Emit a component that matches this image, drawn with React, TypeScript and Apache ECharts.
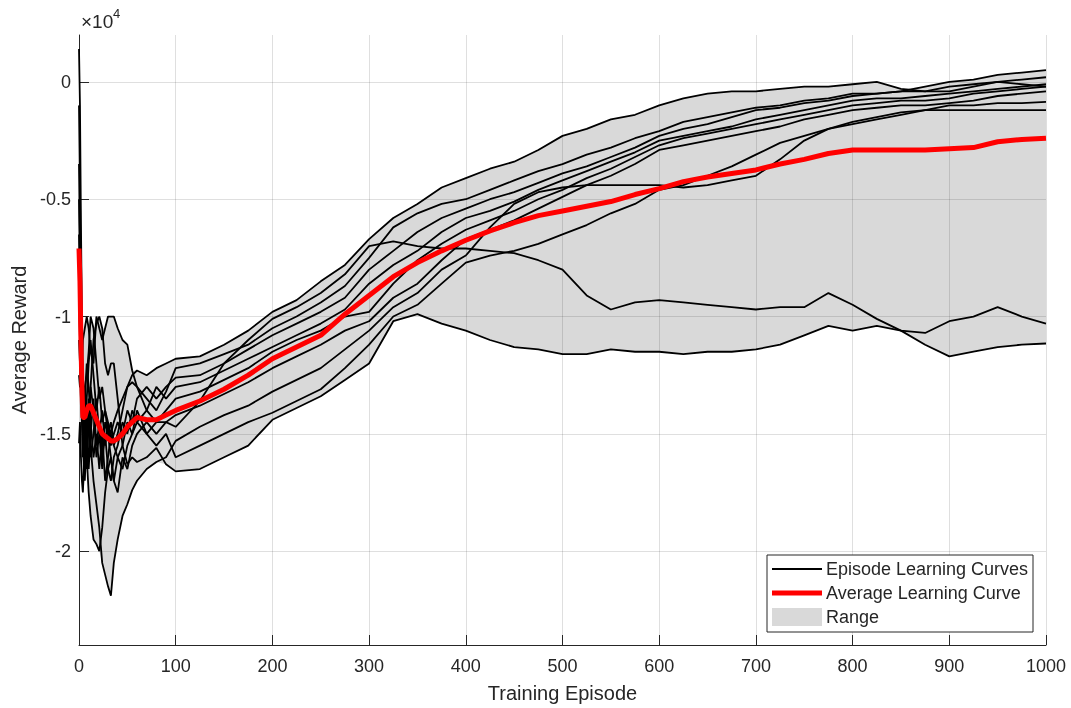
import React, { useEffect, useRef } from "react";
import * as echarts from "echarts";

// Training episodes (sample grid shared by all curves)
const episodes = [0, 1, 2, 3, 4, 6, 8, 10, 12, 15, 18, 21, 24, 27, 30, 33, 36, 40, 45, 50, 55, 60, 70, 80, 90, 100,
  125, 150, 175, 200, 225, 250, 275, 300, 325, 350, 375, 400, 425, 450, 475, 500, 525, 550, 575, 600,
  625, 650, 675, 700, 725, 750, 775, 800, 825, 850, 875, 900, 925, 950, 975, 1000];

// Episode learning curves (average reward, in units of 1e4)
const curve1 = [0.14, -0.1, -0.6, -1.0, -1.3, -1.5, -1.35, -1.2, -1.1, -1.25, -1.4, -1.3, -1.45, -1.4, -1.5, -1.45, -1.55, -1.5, -1.4, -1.3, -1.25, -1.23, -1.25, -1.22, -1.2, -1.18,
  -1.17, -1.12, -1.06, -0.98, -0.93, -0.85, -0.78, -0.67, -0.58, -0.52, -0.45, -0.41, -0.37, -0.34, -0.29, -0.23, -0.2, -0.16, -0.14, -0.1,
  -0.07, -0.05, -0.04, -0.04, -0.03, -0.02, -0.02, -0.01, 0.0, -0.03, -0.04, -0.02, -0.01, 0.0, -0.01, -0.02];
const curve2 = [-0.1, -0.45, -0.9, -1.2, -1.45, -1.3, -1.55, -1.4, -1.6, -1.5, -1.35, -1.5, -1.4, -1.55, -1.45, -1.55, -1.5, -1.45, -1.5, -1.4, -1.45, -1.35, -1.3, -1.35, -1.3, -1.26,
  -1.25, -1.2, -1.14, -1.08, -1.03, -0.98, -0.92, -0.8, -0.72, -0.64, -0.58, -0.54, -0.5, -0.47, -0.43, -0.39, -0.36, -0.32, -0.28, -0.23,
  -0.2, -0.18, -0.15, -0.12, -0.11, -0.09, -0.08, -0.06, -0.05, -0.04, -0.02, 0.0, 0.01, 0.03, 0.04, 0.05];
const curve3 = [-0.35, -0.7, -1.0, -1.15, -1.25, -1.6, -1.4, -1.65, -1.5, -1.35, -1.55, -1.45, -1.6, -1.5, -1.65, -1.7, -1.6, -1.55, -1.45, -1.5, -1.4, -1.45, -1.4, -1.3, -1.35, -1.3,
  -1.28, -1.23, -1.18, -1.13, -1.08, -1.03, -0.97, -0.86, -0.78, -0.72, -0.64, -0.58, -0.55, -0.51, -0.46, -0.42, -0.38, -0.34, -0.3, -0.25,
  -0.23, -0.21, -0.19, -0.16, -0.14, -0.12, -0.1, -0.08, -0.07, -0.07, -0.06, -0.05, -0.04, -0.03, -0.02, -0.01];
const curve4 = [-0.5, -0.8, -1.1, -1.3, -1.5, -1.35, -1.2, -1.3, -1.45, -1.6, -1.5, -1.65, -1.5, -1.7, -1.6, -1.5, -1.55, -1.6, -1.65, -1.55, -1.5, -1.45, -1.5, -1.45, -1.4, -1.35,
  -1.32, -1.27, -1.22, -1.15, -1.1, -1.06, -1.0, -0.98, -0.86, -0.76, -0.69, -0.63, -0.59, -0.55, -0.5, -0.46, -0.41, -0.37, -0.32, -0.27,
  -0.24, -0.22, -0.2, -0.18, -0.16, -0.14, -0.12, -0.1, -0.09, -0.08, -0.08, -0.07, -0.05, -0.04, -0.03, -0.02];
const curve5 = [-0.65, -0.9, -1.15, -1.25, -1.35, -1.5, -1.65, -1.45, -1.3, -1.4, -1.6, -1.5, -1.65, -1.45, -1.5, -1.6, -1.7, -1.75, -1.6, -1.65, -1.55, -1.5, -1.45, -1.5, -1.45, -1.42,
  -1.38, -1.33, -1.28, -1.22, -1.17, -1.12, -1.06, -1.02, -0.92, -0.86, -0.76, -0.67, -0.63, -0.59, -0.54, -0.49, -0.44, -0.4, -0.35, -0.29,
  -0.27, -0.25, -0.23, -0.21, -0.19, -0.16, -0.14, -0.12, -0.11, -0.1, -0.1, -0.09, -0.08, -0.06, -0.05, -0.04];
const curve6 = [-0.8, -1.0, -1.2, -1.35, -1.55, -1.7, -1.5, -1.35, -1.55, -1.7, -1.8, -1.9, -2.05, -2.1, -2.15, -2.19, -2.05, -1.95, -1.85, -1.8, -1.74, -1.7, -1.65, -1.62, -1.6, -1.53,
  -1.47, -1.42, -1.38, -1.32, -1.27, -1.22, -1.14, -1.06, -0.96, -0.9, -0.8, -0.74, -0.62, -0.52, -0.47, -0.45, -0.44, -0.44, -0.44, -0.44,
  -0.45, -0.44, -0.42, -0.4, -0.33, -0.25, -0.2, -0.18, -0.16, -0.14, -0.12, -0.1, -0.1, -0.09, -0.09, -0.085];
const curve7 = [-0.95, -1.1, -1.3, -1.4, -1.45, -1.3, -1.25, -1.15, -1.0, -1.05, -1.2, -1.35, -1.3, -1.4, -1.45, -1.5, -1.45, -1.4, -1.35, -1.3, -1.28, -1.3, -1.35, -1.4, -1.32, -1.22,
  -1.2, -1.16, -1.12, -1.05, -1.0, -0.94, -0.87, -0.75, -0.62, -0.56, -0.52, -0.5, -0.46, -0.42, -0.38, -0.35, -0.31, -0.28, -0.24, -0.21,
  -0.17, -0.15, -0.13, -0.11, -0.1, -0.08, -0.07, -0.05, -0.05, -0.04, -0.04, -0.04, -0.02, 0.0, 0.01, 0.02];
const curve8 = [-1.1, -1.2, -1.35, -1.45, -1.6, -1.45, -1.6, -1.75, -1.85, -1.95, -1.97, -2.0, -1.9, -1.75, -1.65, -1.6, -1.7, -1.6, -1.55, -1.45, -1.5, -1.4, -1.5, -1.55, -1.5, -1.6,
  -1.55, -1.5, -1.45, -1.41, -1.36, -1.31, -1.22, -1.12, -1.0, -0.95, -0.86, -0.77, -0.74, -0.72, -0.69, -0.65, -0.61, -0.56, -0.52, -0.46,
  -0.44, -0.4, -0.36, -0.31, -0.26, -0.23, -0.2, -0.17, -0.15, -0.13, -0.12, -0.12, -0.12, -0.12, -0.12, -0.12];
const curve9 = [-1.25, -1.3, -1.3, -1.2, -1.1, -1.05, -1.0, -1.05, -1.15, -1.2, -1.0, -1.05, -1.1, -1.05, -1.0, -1.0, -1.0, -1.05, -1.1, -1.12, -1.23, -1.3, -1.4, -1.45, -1.45, -1.47,
  -1.36, -1.2, -1.1, -1.01, -0.96, -0.9, -0.82, -0.7, -0.68, -0.7, -0.71, -0.71, -0.72, -0.73, -0.76, -0.8, -0.91, -0.97, -0.94, -0.93,
  -0.94, -0.95, -0.96, -0.97, -0.96, -0.96, -0.9, -0.95, -1.01, -1.06, -1.07, -1.02, -1.0, -0.96, -1.0, -1.03];
const curve10 = [-1.54, -1.45, -1.6, -1.7, -1.75, -1.55, -1.5, -1.5, -1.3, -1.1, -1.03, -1.0, -1.05, -1.2, -1.25, -1.2, -1.2, -1.35, -1.55, -1.63, -1.6, -1.62, -1.6, -1.56, -1.63, -1.66,
  -1.65, -1.6, -1.55, -1.44, -1.39, -1.34, -1.27, -1.2, -1.02, -0.99, -1.03, -1.06, -1.1, -1.13, -1.14, -1.16, -1.16, -1.14, -1.15, -1.15,
  -1.16, -1.15, -1.15, -1.14, -1.12, -1.08, -1.04, -1.06, -1.04, -1.06, -1.12, -1.17, -1.15, -1.13, -1.12, -1.115];

// Average learning curve (units of 1e4)
const averageCurve = [-0.71, -0.85, -1.1, -1.3, -1.43, -1.43, -1.4, -1.38, -1.38, -1.41, -1.44, -1.47, -1.5, -1.51, -1.52, -1.53, -1.53, -1.52, -1.5, -1.47, -1.45, -1.43, -1.44, -1.44, -1.42, -1.4,
  -1.36, -1.31, -1.25, -1.18, -1.13, -1.08, -0.99, -0.91, -0.83, -0.77, -0.72, -0.675, -0.635, -0.6, -0.57, -0.55, -0.53, -0.51, -0.48, -0.455,
  -0.425, -0.405, -0.39, -0.375, -0.35, -0.33, -0.305, -0.29, -0.29, -0.29, -0.29, -0.285, -0.28, -0.255, -0.245, -0.24];

const xTicks = [0, 100, 200, 300, 400, 500, 600, 700, 800, 900, 1000];
const yTicks = [-2, -1.5, -1, -0.5, 0];
const legendLabels = ["Episode Learning Curves", "Average Learning Curve", "Range"];
const xTitle = "Training Episode";
const yTitle = "Average Reward";

const FONT = "'Liberation Sans', Arial, Helvetica, sans-serif";
const TXT = "#262626";

export default function App() {
  const ref = useRef<HTMLDivElement>(null);
  useEffect(() => {
    const chart = echarts.init(ref.current as HTMLDivElement, null, { renderer: "svg" });
    const curves = [curve1, curve2, curve3, curve4, curve5, curve6, curve7, curve8, curve9, curve10];
    const upper = episodes.map((x, i) => [x, Math.max(...curves.map((c) => c[i]))]);
    const lower = episodes.map((x, i) => [x, Math.min(...curves.map((c) => c[i]))]);
    const rangePoly = upper.concat(lower.slice().reverse());
    const gridLines = [
      ...xTicks.filter((v) => v > 0).map((v) => ({ xAxis: v })),
      ...yTicks.map((v) => ({ yAxis: v })),
    ];

    const series: any[] = [
      {
        type: "custom",
        name: legendLabels[2],
        coordinateSystem: "cartesian2d",
        data: [0],
        z: 1,
        silent: true,
        renderItem: (_p: any, api: any) => ({
          type: "polygon",
          shape: { points: rangePoly.map((p) => api.coord(p)) },
          style: { fill: "#d9d9d9", stroke: "none" },
        }),
      },
      {
        type: "line",
        data: [],
        z: 1,
        silent: true,
        markLine: {
          silent: true,
          symbol: "none",
          z: 1.5,
          label: { show: false },
          lineStyle: { color: "rgba(38,38,38,0.15)", width: 1, type: "solid" },
          data: gridLines,
        },
      },
      ...curves.map((c) => ({
        type: "line",
        name: legendLabels[0],
        data: episodes.map((x, i) => [x, c[i]]),
        symbol: "none",
        showSymbol: false,
        silent: true,
        z: 2,
        lineStyle: { color: "#000000", width: 1.8 },
      })),
      {
        type: "line",
        name: legendLabels[1],
        data: episodes.map((x, i) => [x, averageCurve[i]]),
        symbol: "none",
        showSymbol: false,
        silent: true,
        z: 3,
        lineStyle: { color: "#ff0000", width: 5 },
      },
    ];

    chart.setOption({
      animation: false,
      grid: { left: 79, right: 25, top: 35, bottom: 63 },
      xAxis: {
        type: "value",
        min: 0,
        max: 1000,
        interval: 100,
        name: xTitle,
        nameLocation: "middle",
        nameGap: 38,
        nameTextStyle: { fontSize: 20, color: TXT, fontFamily: FONT },
        axisLine: { show: true, onZero: false, lineStyle: { color: TXT, width: 1 } },
        axisTick: { show: true, inside: true, length: 10, lineStyle: { color: TXT } },
        axisLabel: { fontSize: 18, color: TXT, fontFamily: FONT, margin: 12, formatter: (v: number) => String(v) },
        splitLine: { show: false },
      },
      yAxis: {
        type: "value",
        min: -2.4,
        max: 0.2,
        name: yTitle,
        nameLocation: "middle",
        nameGap: 49,
        nameRotate: 90,
        nameTextStyle: { fontSize: 20, color: TXT, fontFamily: FONT },
        axisLine: { show: true, onZero: false, lineStyle: { color: TXT, width: 1 } },
        axisTick: { show: true, inside: true, length: 10, lineStyle: { color: TXT }, customValues: yTicks },
        axisLabel: {
          fontSize: 18,
          color: TXT,
          fontFamily: FONT,
          margin: 8,
          customValues: yTicks,
          formatter: (v: number) => String(v),
        },
        splitLine: { show: false },
      },
      graphic: [
        { type: "text", left: 81, top: 12, style: { text: "×10", fontSize: 19, fill: TXT, fontFamily: FONT } },
        { type: "text", left: 113, top: 7, style: { text: "4", fontSize: 13, fill: TXT, fontFamily: FONT } },
        {
          type: "rect",
          shape: { x: 767, y: 555, width: 266, height: 77 },
          style: { fill: "#ffffff", stroke: TXT, lineWidth: 1 },
          z: 100,
        },
        { type: "line", shape: { x1: 772, y1: 569, x2: 822, y2: 569 }, style: { stroke: "#000", lineWidth: 1.8 }, z: 101 },
        { type: "line", shape: { x1: 772, y1: 593, x2: 822, y2: 593 }, style: { stroke: "#ff0000", lineWidth: 5 }, z: 101 },
        { type: "rect", shape: { x: 772, y: 608, width: 50, height: 18 }, style: { fill: "#d9d9d9" }, z: 101 },
        { type: "text", x: 826, y: 569, style: { text: legendLabels[0], fontSize: 18, fill: TXT, fontFamily: FONT, verticalAlign: "middle" }, z: 101 },
        { type: "text", x: 826, y: 593, style: { text: legendLabels[1], fontSize: 18, fill: TXT, fontFamily: FONT, verticalAlign: "middle" }, z: 101 },
        { type: "text", x: 826, y: 617, style: { text: legendLabels[2], fontSize: 18, fill: TXT, fontFamily: FONT, verticalAlign: "middle" }, z: 101 },
      ],
      series,
    });
    return () => chart.dispose();
  }, []);
  return <div ref={ref} style={{ position: "fixed", left: 0, top: 0, width: 1071, height: 708 }} />;
}
